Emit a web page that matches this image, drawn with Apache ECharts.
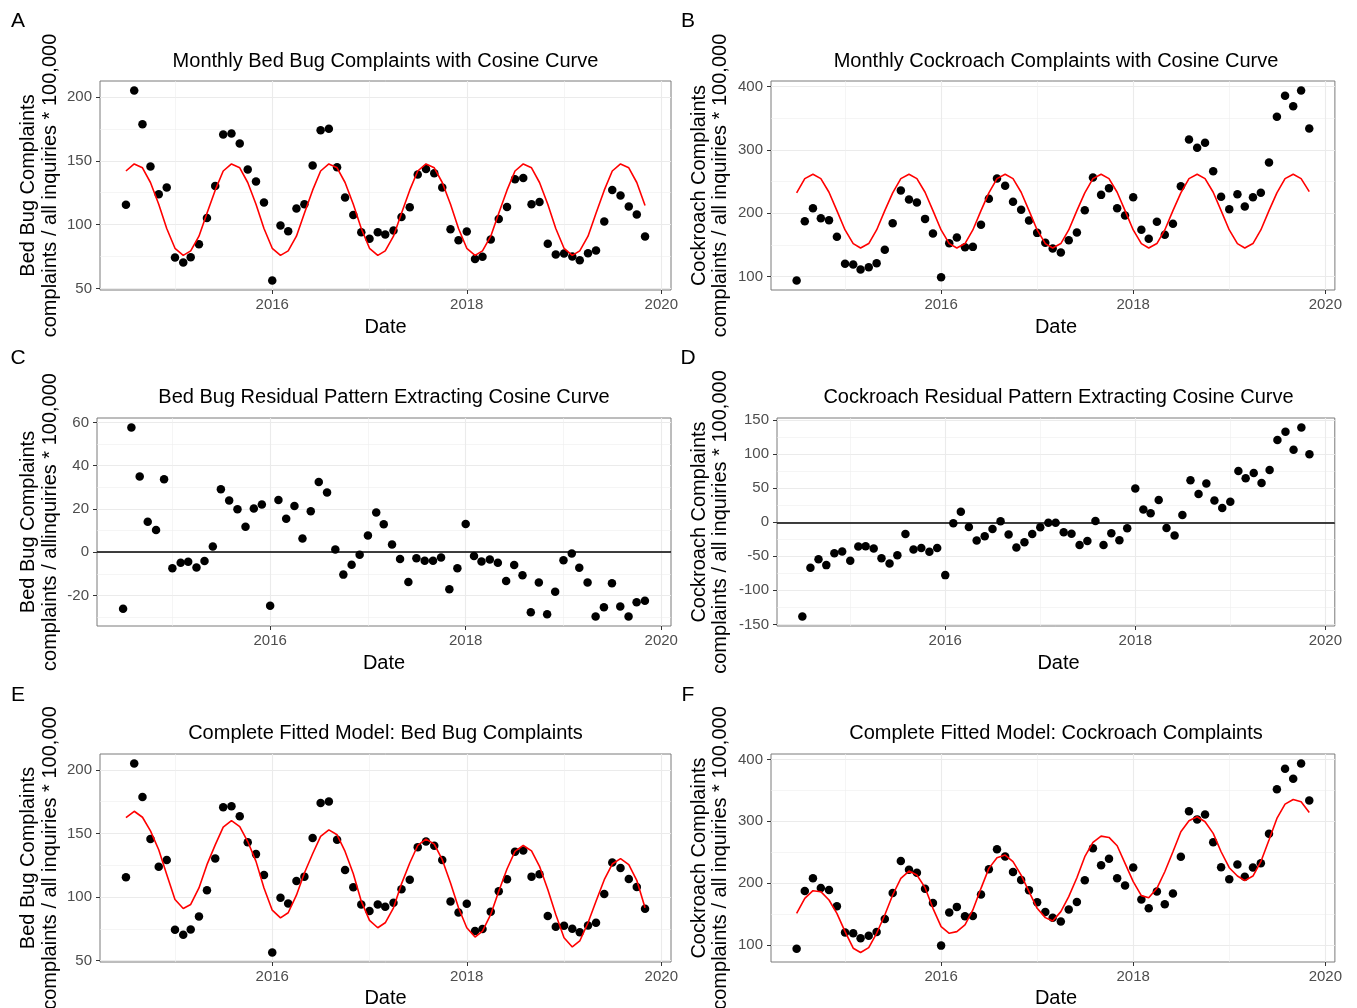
<!DOCTYPE html>
<html>
<head>
<meta charset="utf-8">
<script src="https://cdn.jsdelivr.net/npm/echarts@6/dist/echarts.min.js"></script>
<style>
html,body{margin:0;padding:0;background:#ffffff;}
#chart{width:1345px;height:1008px;}
</style>
</head>
<body>
<div id="chart"></div>
<script>
// ---------------- DATA ----------------
const months = [
 '2014-07','2014-08','2014-09','2014-10','2014-11','2014-12',
 '2015-01','2015-02','2015-03','2015-04','2015-05','2015-06','2015-07','2015-08','2015-09','2015-10','2015-11','2015-12',
 '2016-01','2016-02','2016-03','2016-04','2016-05','2016-06','2016-07','2016-08','2016-09','2016-10','2016-11','2016-12',
 '2017-01','2017-02','2017-03','2017-04','2017-05','2017-06','2017-07','2017-08','2017-09','2017-10','2017-11','2017-12',
 '2018-01','2018-02','2018-03','2018-04','2018-05','2018-06','2018-07','2018-08','2018-09','2018-10','2018-11','2018-12',
 '2019-01','2019-02','2019-03','2019-04','2019-05','2019-06','2019-07','2019-08','2019-09','2019-10','2019-11'
];

const bedBugRate = [115.5,205,178.6,145.5,123.8,129,74.3,70.3,74.5,84.7,
 105.3,130.3,170.5,171.3,163.5,143.1,133.7,117.3,56.3,99.3,
 94.9,112.6,116,146.3,173.9,175,145,121.2,107.6,94,
 88.9,94,92.3,95.4,106,113.6,139.2,143.6,140.3,129,
 96.4,87.8,94.6,73.2,74.8,88.3,104.5,113.9,135.6,136.6,
 116,117.8,85,76.6,77.4,75,72.2,77.6,79.7,102.4,
 127.2,122.8,114.2,107.9,90.7];

const bedBugCosine = [142,147.5,144.5,133,116,97,81.5,76,79.5,91,109,127,
 142,147.5,144.5,133,116,97,81.5,76,79.5,91,109,127,
 142,147.5,144.5,133,116,97,81.5,76,79.5,91,109,127,
 142,147.5,144.5,133,116,97,81.5,76,79.5,91,109,127,
 142,147.5,144.5,133,116,97,81.5,76,79.5,91,109,127,
 142,147.5,144.5,133,115];

const roachRate = [93.7,187.4,207.9,192.1,188.9,162.6,120,118.9,111,114.7,
 121,142.1,184.2,235.8,221.6,216.8,191,167.9,98.9,152.6,
 161.6,146.3,146.8,181.6,222.6,254.7,243.2,217.9,205.3,188.4,
 168.9,153.2,144.2,137.9,157.4,169.5,204.7,256.3,228.9,239.5,
 207.9,196.3,225.3,173.7,159.5,186.3,165.8,183.2,242.6,316.3,
 303.2,311.1,266.3,225.8,206.3,230,210.5,225.3,232.1,280,
 352.1,385.3,369,393.7,333.7];

const roachCosine = [232,254.5,261.5,254.5,233,204,173.5,152,145,152,173.5,204,
 232,254.5,261.5,254.5,233,204,173.5,152,145,152,173.5,204,
 232,254.5,261.5,254.5,233,204,173.5,152,145,152,173.5,204,
 232,254.5,261.5,254.5,233,204,173.5,152,145,152,173.5,204,
 232,254.5,261.5,254.5,233,204,173.5,152,145,152,173.5,204,
 232,254.5,261.5,254.5,234];

const bedBugResidual = [-26.2,57.7,35,14.1,10.3,33.7,-7.5,-4.9,-4.4,-7.1,
 -4.1,2.6,29.1,23.9,19.8,11.8,20.2,22.1,-24.8,24.1,
 15.5,21.3,6.3,18.9,32.5,27.6,1.2,-10.4,-5.8,-1.2,
 7.7,18.3,12.9,3.5,-3.2,-13.8,-2.8,-4,-4,-2.5,
 -17.2,-7.5,13,-1.8,-4.3,-3.4,-4.9,-13.3,-6,-10.7,
 -27.8,-14,-28.7,-18.3,-3.8,-0.6,-7.2,-14,-29.8,-25.5,
 -14.4,-25.2,-29.8,-23.2,-22.5];

const roachResidual = [-138.5,-66.8,-54.1,-62.9,-45.4,-42.9,-56.6,-35.6,-35.1,-38.5,
 -52.7,-60.5,-48.3,-17.1,-40,-37.6,-43.4,-37.6,-77.6,-1.5,
 15.6,-6.8,-26.8,-20.5,-9.8,1.5,-18,-37.1,-29.3,-17.1,
 -7.3,-0.5,-0.5,-14.6,-16.6,-33.2,-27.3,2,-33.2,-16.1,
 -26.3,-8.8,49.8,19,13.2,32.7,-8.3,-19.5,10.7,62,
 41.5,57.1,32.2,21,30.2,75.6,64.9,72.7,58,77.1,
 121,133.2,106.8,139.5,100];

const bedBugFitted = [162.4,167.4,162.7,152,137.1,117.6,98,91,94.1,107.1,125.4,141,
 154.9,160.1,155.4,143.6,128,107.1,89.6,83.6,87.6,101.4,118.9,134,
 147.6,152.8,148.9,135.8,118.3,96.7,81.6,75.8,79.7,91.5,110.3,126.7,
 140.5,145.5,141.6,129.3,111,91.5,75.8,68.5,73.2,86.3,104.5,122,
 135.8,140.5,136.3,124.1,105.8,86.3,68,60.7,65.4,79.7,96.7,113.6,
 125.9,130.1,125.4,113.1,91.5];

const roachFitted = [151.2,175.4,187.8,186.2,172.7,151.2,121.6,94.7,87.7,95.7,118.9,148.5,
 180.8,207.8,219.6,213.1,192.7,159.3,129.7,118.9,121.6,132.4,156.6,191.6,
 223.9,241.1,245.5,234.7,213.1,186.2,159.3,144.2,138.8,153.9,178.1,208.8,
 242.8,265.9,276.1,274,260.5,232,202.4,179.8,176.5,191.6,218.5,250.8,
 283.2,300.9,307.4,299.3,280.5,250.8,225,211.5,204,211.5,234.7,269.7,
 304.7,327.8,335.4,331.6,314.4];

// tick labels
const xMajorYears = [2016, 2018, 2020];
const xMinorYears = [2015, 2017, 2019];
const yTicksBedBug = [50, 100, 150, 200];
const yMinorBedBug = [75, 125, 175];
const yTicksRoach = [100, 200, 300, 400];
const yMinorRoach = [150, 250, 350];
const yTicksBedBugRes = [-20, 0, 20, 40, 60];
const yMinorBedBugRes = [-30, -10, 10, 30, 50];
const yTicksRoachRes = [-150, -100, -50, 0, 50, 100, 150];
const yMinorRoachRes = [-125, -75, -25, 25, 75, 125];

const titles = [
 'Monthly Bed Bug Complaints with Cosine Curve',
 'Monthly Cockroach Complaints with Cosine Curve',
 'Bed Bug Residual Pattern Extracting Cosine Curve',
 'Cockroach Residual Pattern Extracting Cosine Curve',
 'Complete Fitted Model: Bed Bug Complaints',
 'Complete Fitted Model: Cockroach Complaints'
];
const letters = ['A','B','C','D','E','F'];
const yTitle1 = ['Bed Bug Complaints','Cockroach Complaints','Bed Bug Complaints','Cockroach Complaints','Bed Bug Complaints','Cockroach Complaints'];
const yTitle2 = ['complaints / all inquiries * 100,000','complaints / all inquiries * 100,000','complaints / allinquiries * 100,000','complaints / all inquiries * 100,000','complaints / all inquiries * 100,000','complaints / all inquiries * 100,000'];
const xTitle = 'Date';

// ---------------- LAYOUT ----------------
const FONT = '"Liberation Sans", Arial, Helvetica, sans-serif';
// date string -> decimal year (position on the date axis)
const toYear = s => {
  const p = s.split('-').map(Number);
  const a = Date.UTC(p[0], 0, 1), b = Date.UTC(p[0] + 1, 0, 1), t = Date.UTC(p[0], p[1] - 1, 1);
  return p[0] + (t - a) / (b - a);
};
const xs = months.map(toYear);
const x0 = xs[0], x1 = xs[xs.length - 1];
const xMin = x0 - 0.05 * (x1 - x0), xMax = x1 + 0.05 * (x1 - x0);

function yRange(arrs) {
  let lo = Infinity, hi = -Infinity;
  arrs.forEach(a => a.forEach(v => { if (v < lo) lo = v; if (v > hi) hi = v; }));
  const pad = 0.05 * (hi - lo);
  return [lo - pad, hi + pad];
}

const panels = [
  {g:{left:100, top:81, width:571, height:209}, pts:bedBugRate, line:bedBugCosine, hline:false, major:yTicksBedBug, minor:yMinorBedBug,
   letter:[18,21], title:[385.5,61], date:[385.5,327], yt:[28,50,185.5]},
  {g:{left:771, top:81, width:569, height:209}, pts:roachRate, line:roachCosine, hline:false, major:yTicksRoach, minor:yMinorRoach,
   letter:[688,21], title:[1056,61], date:[1056,327], yt:[699,720.5,185.5]},
  {g:{left:97, top:418, width:574, height:208}, pts:bedBugResidual, line:null, hline:true, major:yTicksBedBugRes, minor:yMinorBedBugRes,
   letter:[18,358], title:[384,397], date:[384,663], yt:[28,50,522]},
  {g:{left:777, top:418, width:563, height:208}, pts:roachResidual, line:null, hline:true, major:yTicksRoachRes, minor:yMinorRoachRes,
   letter:[688,358], title:[1058.5,397], date:[1058.5,663], yt:[699,720.5,522]},
  {g:{left:100, top:754, width:571, height:208}, pts:bedBugRate, line:bedBugFitted, hline:false, major:yTicksBedBug, minor:yMinorBedBug,
   letter:[18,695], title:[385.5,733], date:[385.5,998], yt:[28,50,858]},
  {g:{left:771, top:754, width:569, height:208}, pts:roachRate, line:roachFitted, hline:false, major:yTicksRoach, minor:yMinorRoach,
   letter:[688,695], title:[1056,733], date:[1056,998], yt:[699,720.5,858]}
];

const grid = [], xAxis = [], yAxis = [], series = [], graphic = [];
const majorLine = {color:'#EBEBEB', width:1.1};
const minorLine = {color:'#EFEFEF', width:0.6};

function txt(x, y, text, size, rot, color) {
  return {type:'text', x:x, y:y, rotation: rot || 0, silent:true, z:10,
    style:{text:text, fontSize:size, fontFamily:FONT, fill:color || '#000',
      align:'center', verticalAlign:'middle', textAlign:'center', textVerticalAlign:'middle'}};
}

panels.forEach((p, i) => {
  grid.push(Object.assign({show:true, borderColor:'#7A7A7A', borderWidth:1, backgroundColor:'transparent', containLabel:false}, p.g));
  const yr = yRange(p.line ? [p.pts, p.line] : [p.pts]);
  // major x
  xAxis.push({type:'value', gridIndex:i, min:xMin, max:xMax, position:'bottom', scale:true,
    axisLine:{show:false, onZero:false},
    axisTick:{show:true, length:4, lineStyle:{color:'#333333', width:1}, customValues: xMajorYears},
    axisLabel:{show:true, customValues: xMajorYears, formatter: v => String(Math.round(v)),
      color:'#4D4D4D', fontSize:15, fontFamily:FONT, margin:7, hideOverlap:false},
    splitLine:{show:true, lineStyle:majorLine}});
  // minor x
  xAxis.push({type:'value', gridIndex:i, min:xMin, max:xMax, position:'bottom', scale:true,
    axisLine:{show:false, onZero:false},
    axisTick:{show:false, customValues: xMinorYears},
    axisLabel:{show:false, customValues: xMinorYears},
    splitLine:{show:true, lineStyle:minorLine}});
  // major y
  yAxis.push({type:'value', gridIndex:i, min:yr[0], max:yr[1], position:'left', scale:true,
    axisLine:{show:false, onZero:false},
    axisTick:{show:true, length:4, lineStyle:{color:'#333333', width:1}, customValues:p.major},
    axisLabel:{show:true, customValues:p.major, formatter: v => String(v), color:'#4D4D4D', fontSize:15, fontFamily:FONT, margin:8},
    splitLine:{show:true, lineStyle:majorLine}});
  // minor y
  yAxis.push({type:'value', gridIndex:i, min:yr[0], max:yr[1], position:'left', scale:true,
    axisLine:{show:false, onZero:false},
    axisTick:{show:false, customValues:p.minor},
    axisLabel:{show:false, customValues:p.minor},
    splitLine:{show:true, lineStyle:minorLine}});

  const sc = {type:'scatter', xAxisIndex:2*i, yAxisIndex:2*i, symbol:'circle', symbolSize:8.5,
    itemStyle:{color:'#000000', opacity:1}, silent:true, z:3,
    data: p.pts.map((v, k) => [xs[k], v])};
  if (p.hline) {
    sc.markLine = {silent:true, symbol:['none','none'], label:{show:false},
      lineStyle:{color:'#000000', width:1.6, type:'solid', opacity:1}, data:[{yAxis:0}], animation:false};
  }
  series.push(sc);
  if (p.line) {
    series.push({type:'line', xAxisIndex:2*i, yAxisIndex:2*i, symbol:'none', showSymbol:false, silent:true, z:4,
      lineStyle:{color:'#FF0000', width:1.6}, data: p.line.map((v, k) => [xs[k], v])});
  }

  graphic.push(txt(p.letter[0], p.letter[1], letters[i], 21));
  graphic.push(txt(p.title[0], p.title[1], titles[i], 20));
  graphic.push(txt(p.date[0], p.date[1], xTitle, 20));
  graphic.push(txt(p.yt[0], p.yt[2], yTitle1[i], 20, Math.PI / 2));
  graphic.push(txt(p.yt[1], p.yt[2], yTitle2[i], 20, Math.PI / 2));
});

const chart = echarts.init(document.getElementById('chart'), null, {renderer:'canvas'});
chart.setOption({
  backgroundColor:'#ffffff',
  animation:false,
  grid: grid,
  xAxis: xAxis,
  yAxis: yAxis,
  series: series,
  graphic: graphic
});
</script>
</body>
</html>
